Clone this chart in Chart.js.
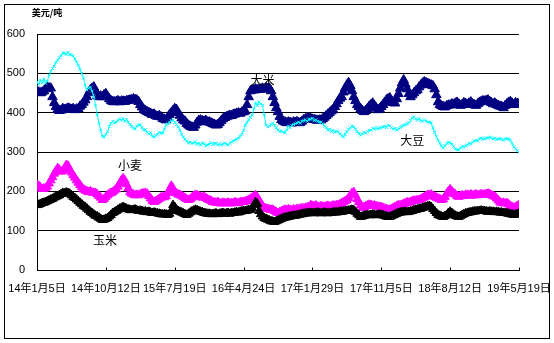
<!DOCTYPE html>
<html><head><meta charset="utf-8">
<script src="https://cdn.jsdelivr.net/npm/chart.js@4.4.1/dist/chart.umd.min.js"></script>
<style>html,body{margin:0;padding:0;background:#fff}#wrap{width:554px;height:343px;position:relative}</style>
</head><body><div id="wrap"><canvas id="c" width="554" height="343"></canvas></div>
<script>
const tickWeeks = [0,40,80,120,160,200,240,280];
const tickLabels = ['14年1月5日','14年10月12日','15年7月19日','16年4月24日','17年1月29日','17年11月5日','18年8月12日','19年5月19日'];
const unitLabel = '美元/吨';
const seriesNames = ['玉米','小麦','大豆','大米'];

const rice = [
455,452,450,452,455,460,465,463,462,440,
425,415,408,405,406,410,408,409,411,410,
408,410,407,409,410,416,420,426,432,440,
450,458,462,465,455,442,440,442,440,445,
448,440,435,430,428,427,428,430,427,429,
429,428,430,431,432,432,435,433,432,428,
420,414,408,405,402,400,398,395,396,392,
390,392,389,385,383,381,388,395,400,405,
410,408,400,393,386,381,378,372,368,365,
363,362,368,375,380,381,379,378,380,376,
376,374,372,370,368,369,374,379,384,387,
389,391,393,392,395,396,398,399,398,401,
402,404,420,440,455,458,457,460,458,459,
460,462,459,463,461,462,455,440,425,412,
402,390,382,378,376,374,376,375,373,376,
375,377,374,375,378,382,384,386,386,385,
383,382,381,380,381,381,384,388,392,396,
400,404,407,415,422,430,436,440,452,462,
470,476,468,455,440,430,420,415,410,405,
402,405,410,416,420,424,418,412,407,410,
415,420,426,432,435,437,430,425,424,435,
448,462,475,483,472,460,448,440,445,450,
455,458,465,470,475,478,476,474,472,470,
468,460,445,427,420,417,415,414,417,419,
419,422,420,424,426,422,418,421,425,423,
420,424,427,422,420,418,422,426,428,430,
429,431,432,428,425,422,424,420,418,416,
415,412,418,422,426,428,424,420,425,423,
422];

const soybean = [
478,472,483,476,485,475,480,495,505,512,
518,528,534,540,545,552,551,548,553,547,
547,544,536,529,520,510,500,488,470,458,
462,465,455,440,419,395,373,355,340,338,
345,352,365,373,378,374,376,380,384,381,
385,378,383,376,370,365,361,358,366,369,
369,362,355,357,350,346,349,340,338,342,
345,350,348,348,358,369,372,376,380,381,
375,370,364,355,345,338,332,328,323,325,
322,323,326,320,322,318,323,321,316,318,
320,324,319,322,322,318,321,317,320,323,
320,318,322,325,328,330,332,335,340,345,
355,368,375,382,388,394,410,425,418,427,
422,419,395,369,364,367,370,373,368,362,
356,352,354,351,349,356,366,362,368,370,
372,374,376,373,378,380,382,378,384,383,
386,380,382,378,376,376,372,366,362,356,
358,352,355,350,353,351,346,342,338,345,
352,358,361,366,364,358,352,347,343,346,
350,348,352,355,356,360,358,362,359,361,
362,364,365,362,368,366,362,358,360,356,
359,362,365,368,369,372,375,380,386,389,
384,381,385,380,378,382,379,376,376,374,
361,350,340,330,322,315,310,316,322,325,
323,320,314,308,306,305,310,314,312,316,
318,322,320,325,328,330,328,333,336,332,
334,336,335,338,336,333,335,332,333,334,
332,330,334,333,333,330,322,313,308,304,
300];

const wheat = [
216,214,210,206,207,208,212,220,228,236,
245,252,259,255,250,252,258,267,265,255,
248,241,235,228,222,216,210,205,202,200,
198,200,197,196,196,192,188,184,178,181,
186,190,194,196,198,202,205,212,220,228,
233,228,218,208,198,194,192,190,191,190,
192,194,195,196,194,188,182,176,173,175,
178,181,184,186,185,188,196,205,214,208,
198,195,192,191,188,186,183,180,178,180,
184,188,191,190,188,186,184,186,183,180,
178,176,173,172,171,173,170,169,171,170,
170,171,169,170,170,172,171,170,172,173,
173,174,176,178,181,184,186,190,185,178,
170,163,158,156,155,154,153,153,150,147,
145,147,149,151,153,152,154,153,151,154,
153,155,154,156,157,156,158,159,160,165,
163,162,164,161,160,162,161,160,162,163,
161,162,164,163,165,165,167,170,172,175,
178,183,190,196,198,190,180,173,165,158,
160,162,164,166,165,163,164,162,161,160,
160,158,156,155,153,153,155,158,160,163,
165,164,166,168,170,172,171,173,175,176,
176,178,178,180,183,185,188,191,190,192,
188,186,184,182,180,178,180,186,194,200,
205,200,196,192,188,186,188,190,188,191,
191,190,192,189,191,192,190,191,193,191,
192,193,194,193,190,188,186,182,177,172,
170,171,169,170,167,163,160,158,160,163,
165];

const corn = [
165,166,168,170,171,173,175,177,179,181,
184,186,188,190,193,196,195,197,196,194,
190,186,183,179,175,171,167,163,160,156,
152,148,145,141,138,136,133,130,127,128,
130,132,136,140,145,147,150,153,156,158,
160,158,156,154,153,152,153,154,152,150,
151,150,148,149,147,148,146,145,146,145,
144,143,142,141,142,141,140,143,150,165,
160,154,150,148,146,144,142,140,143,146,
149,151,153,152,150,148,147,145,144,143,
143,142,142,143,144,142,143,144,145,143,
144,145,143,145,145,146,147,146,148,149,
150,150,151,152,153,158,165,172,168,150,
142,136,132,130,128,126,124,123,122,124,
126,128,130,132,133,134,135,136,137,138,
138,139,140,141,142,143,144,144,145,145,
145,144,145,146,145,144,145,146,145,144,
145,145,146,147,146,147,148,148,149,150,
150,151,152,153,152,148,143,139,135,136,
138,139,140,139,140,141,140,139,140,141,
140,139,137,136,135,135,137,139,141,143,
145,146,147,147,148,147,148,149,150,152,
153,154,155,156,158,159,160,162,163,160,
155,150,145,140,138,136,135,137,140,145,
148,145,141,138,136,135,137,140,142,144,
145,146,147,148,149,149,150,150,151,150,
150,149,148,149,148,148,147,148,147,146,
146,145,145,144,143,142,141,140,141,142,
143];

// in-chart series labels anchored in data coordinates (week, value)
const noteWeeks = [39.5, 54, 218, 131];
const noteValues = [76, 267, 330, 483];

const toXY = arr => arr.map((v, i) => ({x: i, y: v}));
const TICKFONT = '"Liberation Sans Narrow", "Liberation Sans", "Noto Sans CJK SC", sans-serif';

const extras = {
  id: 'extras',
  afterDraw(chart) {
    const ctx = chart.ctx, xs = chart.scales.x, ys = chart.scales.y;
    ctx.save();
    ctx.strokeStyle = '#000'; ctx.lineWidth = 1;
    ctx.strokeRect(4.5, 4.5, 545, 334);
    const yb = Math.round(ys.getPixelForValue(0)) + 0.5;
    ctx.beginPath();
    tickWeeks.forEach(w => {
      const px = Math.round(xs.getPixelForValue(w)) + 0.5;
      ctx.moveTo(px, yb); ctx.lineTo(px, yb - 3);
    });
    ctx.stroke();
    ctx.fillStyle = '#000';
    ctx.textAlign = 'center'; ctx.textBaseline = 'middle';
    ctx.font = '12px "Noto Sans CJK SC", sans-serif';
    seriesNames.forEach((n, i) => {
      ctx.fillText(n, xs.getPixelForValue(noteWeeks[i]), ys.getPixelForValue(noteValues[i]));
    });
    ctx.font = 'bold 9px "Noto Sans CJK SC", sans-serif';
    ctx.fillText(unitLabel, 47, 13);
    ctx.restore();
  }
};

new Chart(document.getElementById('c'), {
  type: 'line',
  data: {
    datasets: [
      {label: seriesNames[0], data: toXY(corn), borderColor: '#000', backgroundColor: '#000', borderWidth: 1,
       pointStyle: 'triangle', pointRadius: 5, pointBorderWidth: 1},
      {label: seriesNames[1], data: toXY(wheat), borderColor: '#FF00FF', backgroundColor: '#FF00FF', borderWidth: 1,
       pointStyle: 'triangle', pointRadius: 5, pointBorderWidth: 1},
      {label: seriesNames[2], data: toXY(soybean), borderColor: '#00FFFF', backgroundColor: '#00FFFF', borderWidth: 1,
       pointStyle: 'crossRot', pointRadius: 2, pointBorderWidth: 1},
      {label: seriesNames[3], data: toXY(rice), borderColor: '#000080', backgroundColor: '#000080', borderWidth: 1,
       pointStyle: 'triangle', pointRadius: 5.5, pointBorderWidth: 1}
    ]
  },
  options: {
    responsive: false, animation: false, devicePixelRatio: 1,
    layout: {padding: {left: 0, top: 34, right: 35, bottom: 0}},
    plugins: {legend: {display: false}, tooltip: {enabled: false}},
    scales: {
      x: {
        type: 'linear', min: 0, max: 280,
        afterBuildTicks: s => { s.ticks = tickWeeks.map(v => ({value: v})); },
        afterFit: s => { s.height = 73; s.paddingLeft = 0; s.paddingRight = 0; },
        ticks: {autoSkip: false, maxRotation: 0, minRotation: 0, padding: 12, color: '#000',
                font: {size: 11, family: TICKFONT},
                callback: v => { const i = tickWeeks.indexOf(v); return i >= 0 ? tickLabels[i] : ''; }},
        grid: {display: false, drawTicks: false},
        border: {display: true, color: '#000', width: 1}
      },
      y: {
        min: 0, max: 600,
        afterFit: s => { s.width = 37; s.paddingTop = 0; s.paddingBottom = 0; },
        ticks: {stepSize: 100, padding: 12, color: '#000', font: {size: 11, family: TICKFONT}},
        grid: {color: '#000', lineWidth: 1, drawTicks: false},
        border: {display: true, color: '#000', width: 1}
      }
    }
  },
  plugins: [extras]
});
</script></body></html>
